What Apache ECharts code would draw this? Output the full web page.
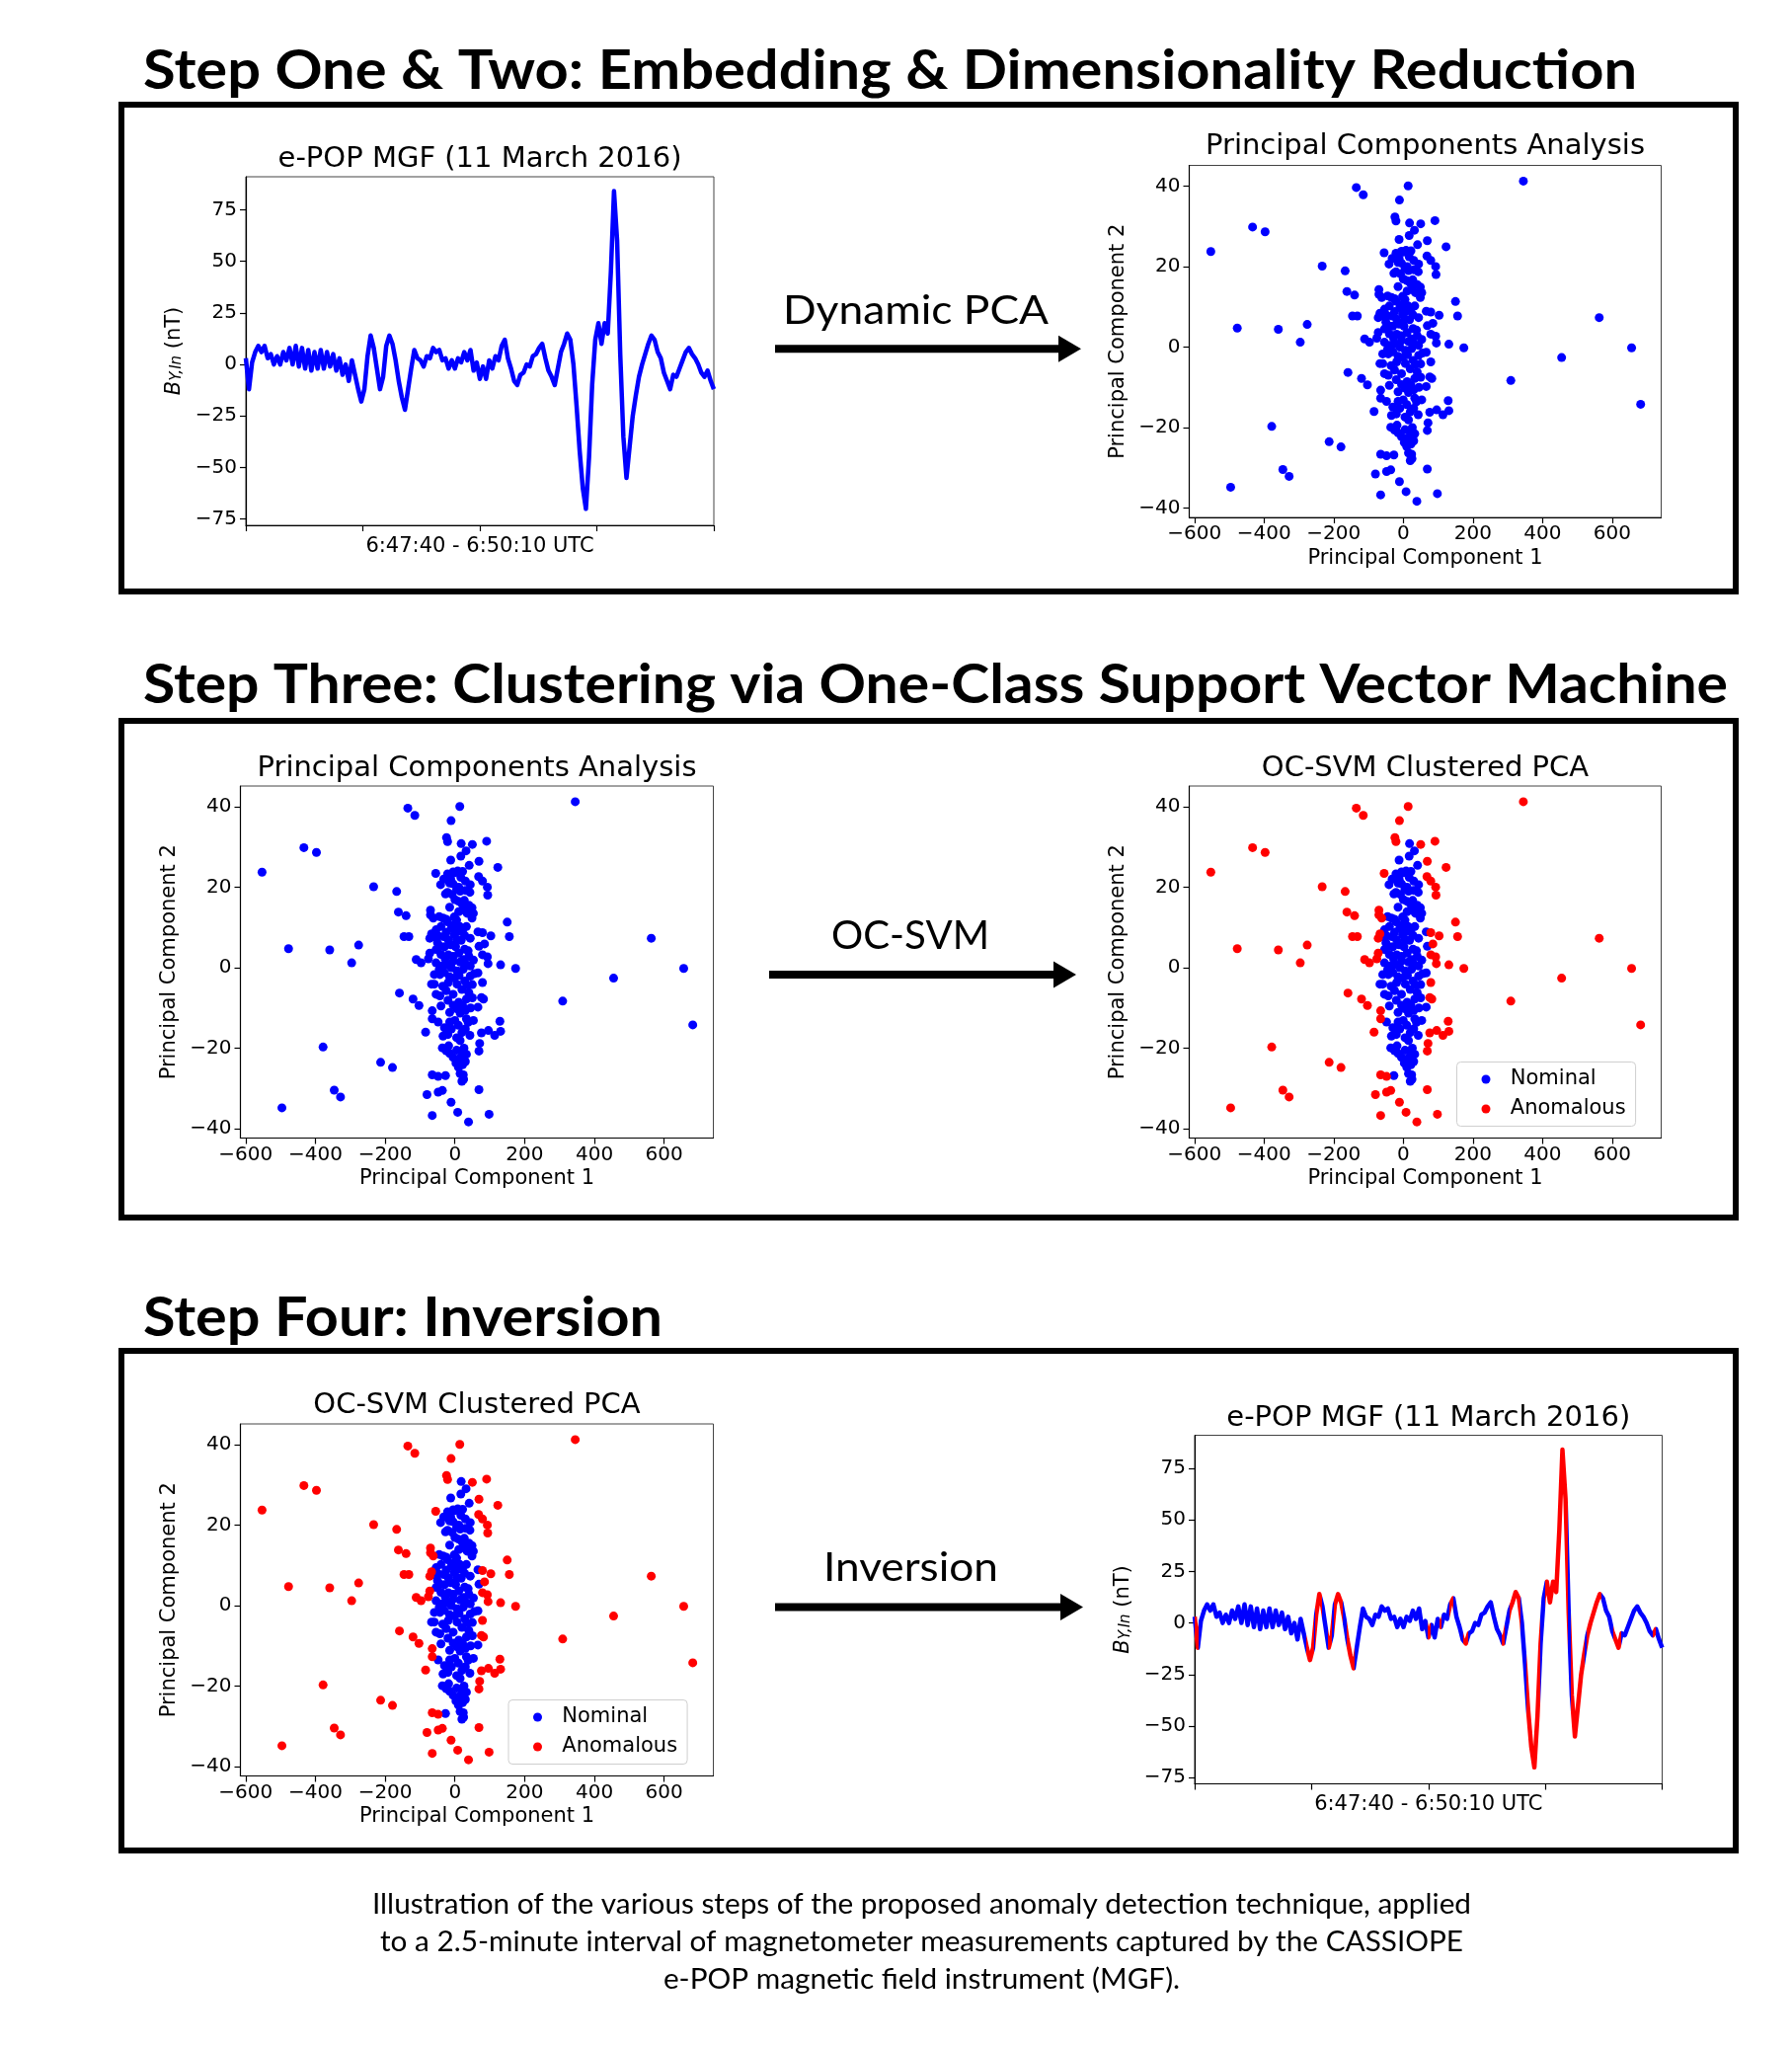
<!DOCTYPE html>
<html>
<head>
<meta charset="utf-8">
<script src="https://cdn.jsdelivr.net/npm/echarts@6/dist/echarts.min.js"></script>
<style>
  html, body { margin: 0; padding: 0; background: #fff; }
  #app { width: 1815px; height: 2073px; }
</style>
</head>
<body>
<div id="app"></div>
<script>
// tick values
var PC1_TICKS = [-600, -400, -200, 0, 200, 400, 600];
var PC2_TICKS = [-40, -20, 0, 20, 40];
var BY_TICKS = [-75, -50, -25, 0, 25, 50, 75];
var TIME_TICKS_S = [0, 37.5, 75, 112.5, 150];

// B_Y,In (nT), one sample per second over the 150 s interval (6:47:40 - 6:50:10 UTC)
var BY_NT = [
    3, -12, 1, 6, 9, 6, 9, 3, 5, 0,
    4, 0, 6, 2, 8, 0, 9, -1, 8, -2,
    7, -3, 6, -2, 7, -2, 6, -1, 5, -3,
    3, -5, 0, -8, 2, -5, -12, -18, -12, 4,
    14, 8, -2, -12, -6, 9, 14, 10, 2, -8,
    -16, -22, -12, -2, 7, 3, 2, -1, 4, 3,
    8, 6, 7, 2, 3, -2, 2, -2, 3, 1,
    6, 2, 7, -3, 1, -7, -1, -7, 2, -2,
    4, 2, 9, 12, 3, -2, -8, -10, -5, -4,
    0, -1, 4, 5, 8, 10, 3, -3, -6, -10,
    -2, 6, 10, 15, 12, 0, -20, -42, -60, -70,
    -45, -10, 12, 20, 10, 20, 15, 45, 84, 60,
    5, -35, -55, -40, -25, -15, -6, 0, 5, 10,
    14, 12, 6, 3, -4, -8, -12, -5, -6, -2,
    2, 6, 8, 5, 3, 0, -4, -6, -3, -8,
    -12
];
var STEP_S = 1;

// time spans (s) flagged anomalous after inversion
var ANOMALY_INTERVALS_S = [
    [0, 1.2], [35.8, 38.2], [38.7, 40.9], [42.7, 43.9], [44.7, 47.5], [48.7, 51.4],
    [74.8, 75.7], [78.5, 79.1], [81.7, 82.9], [86.3, 87.8], [98.5, 99.4],
    [100.9, 104.5], [106.3, 110.9], [112.4, 119.6], [120.6, 125.1], [125.7, 130.6],
    [134.2, 136.7], [147, 147.9]
];

// [PC1, PC2] points the OC-SVM kept as nominal
var NOMINAL = [
    [18, 30.8], [32, 29], [17, 27.7], [-12, 26.7], [41, 25.4], [44, 20.6], [43, 18.7], [-41, 20.6],
    [-21, 18.7], [20, -28.2], [24, -26.6], [-27, -26.8], [-34, -17], [-36, -19.9], [-18, -19.4],
    [-15, -21.3], [33, -21.5], [43, -16.8], [3, -23.7], [22, -24.1], [14, -22.5], [26, -20],
    [-15, -11.1], [-48, -13.5], [-15, -13.5], [0, -13.1], [33, -12.7], [53, -13.1], [66, -9.8],
    [66, -1.3], [44, -2.1], [-54, -6.6], [-43, -7], [-59, -4.1], [-67, -4.1], [-19, -3.7],
    [-5, -6.6], [11, -8.6], [22, -9.4], [33, -7.8], [40, -6.2], [20, -5.4], [6, -4.1],
    [-59, -1.7], [-43, -1.7], [-38, 0.4], [-54, 1.2], [-54, 4.5], [-43, 5.3], [-19, 3.2],
    [-5, 2.8], [11, 3.6], [24, 2], [40, 2.8], [53, 1.9], [44, 0.4], [24, -0.4], [6, -0.8],
    [-10, 0], [-24, 0.8], [69, 5.3], [-54, 9.4], [-32, 7.7], [-19, 6.9], [-2, 8.2], [14, 10.2],
    [22, 9.4], [33, 10.2], [44, 7.3], [66, 8.9], [-34, 12.3], [-21, 11.4], [-2, 12.6], [11, 13.9],
    [24, 14.3], [35, 13.5], [49, 14.9], [53, 13.5], [49, 12.3], [27, 16.7], [0, 16.9], [-27, 18.3],
    [-12, 22], [0, 23.6], [17, 22.4], [-5, 20.8], [11, 20], [-21, 23.3], [-32, 22],
    [-5, 23.8], [8, 24], [22, 23.9], [30, 21.5], [-15, 21], [5, 19.5], [15, 19], [30, 19.2], [-8, 18.2],
    [10, 16.5], [20, 15.9], [-15, 15], [40, 15.5], [45, 13.6], [-45, 12.7], [-25, 12], [5, 11.8],
    [-40, 10.2], [-10, 9.8], [0, 10.8], [10, 9], [28, 8], [-25, 8.8], [5, 7], [18, 6.8], [-48, 7.9], [-60, 7.7],
    [-50, 6.2], [-30, 5.2], [-12, 5.7], [2, 5.2], [28, 4.6], [38, 4.2], [-40, 3.3], [-28, 2.2], [15, 1.4],
    [30, 1.0], [-5, 1.6], [-45, -0.5], [-30, -1.2], [-15, -2.3], [-2, -2.6], [12, -1.9], [28, -3.3],
    [50, -4.2], [55, -1.5], [35, -4.3], [-35, -4.6], [-25, -5.7], [-40, -9.5], [-20, -8.1], [5, -10.2],
    [15, -11.3], [30, -10.6], [45, -10.0], [50, -7.5], [-5, -9.3], [38, -13.6], [-30, -14.9], [-10, -15.2],
    [10, -14.3], [20, -16.1], [30, -15.2], [5, -17.4], [15, -18.1], [-20, -16.6], [-25, -20.6], [5, -20.5],
    [18, -20.7], [-5, -22.3], [10, -24.7], [30, -23.3], [15, -26.3], [25, -27.7]
];

// [PC1, PC2] points the OC-SVM flagged as anomalous
var ANOMALOUS = [
    [-553, 23.7], [-433, 29.8], [-397, 28.6], [-477, 4.7], [-359, 4.4], [-276, 5.6], [-296, 1.2],
    [-378, -19.7], [-496, -34.8], [-346, -30.4], [-328, -32.1], [-233, 20.1], [-213, -23.5],
    [-179, -24.8], [-167, 18.9], [-162, 13.8], [-140, 12.9], [-146, 7.7], [-132, 7.7], [-159, -6.3],
    [-120, -7.8], [-103, -9.4], [-135, 39.6], [-115, 37.8], [14, 40], [-11, 36.5], [345, 41.2],
    [563, 7.3], [656, -0.2], [455, -2.6], [309, -8.3], [682, -14.2], [174, -0.2], [150, 11.3],
    [156, 7.7], [131, 0.7], [129, -13.3], [131, -15.8], [123, 24.9], [91, 31.4], [50, 30.6],
    [-24, 32.3], [-21, 31.3], [69, 26.4], [-55, 23.4], [103, 7.9], [79, 21.5], [93, 20], [94, 18],
    [68, 22.6], [98, -36.4], [39, -38.3], [8, -35.9], [-11, -33.4], [-65, -36.7], [-80, -31.5],
    [-48, -30.9], [-36, -30.5], [-65, -26.6], [-48, -27], [69, -30.3], [-84, -16], [69, -20.7],
    [71, -18.8], [76, -16.2], [96, -15.6], [114, -16.8], [-65, -10.7], [-65, -12.7], [79, -3.7],
    [76, -7.4], [82, -7.8], [-97, 1.2], [-111, 2], [-76, 2.2], [-72, 3.6], [85, 5.9], [79, 3.2],
    [93, 2.7], [95, 1.0], [-72, 7.3], [-67, 8.4], [79, 8.7], [-70, 14.3], [-70, 13.1], [-62, 12.3]
];

var BLUE = '#0000ff';
var RED = '#ff0000';
var MPL_FONT = 'DejaVu Sans';

var chart = echarts.init(document.getElementById('app'), null, { width: 1815, height: 2073 });

var frames = [
    { left: 249, top: 179, width: 474, height: 353 },      // A  time series
    { left: 1204.5, top: 167.5, width: 478, height: 356.5 }, // B  PCA
    { left: 243.5, top: 796, width: 479, height: 356.5 },   // C  PCA
    { left: 1204.5, top: 796, width: 478, height: 356.5 },  // D  OC-SVM
    { left: 243.5, top: 1442, width: 479, height: 356.5 },  // E  OC-SVM
    { left: 1210, top: 1453.5, width: 473.5, height: 353 }  // F  time series
];

function minus(v) {
    return String(v).replace('-', '\u2212');
}

function baseAxis(gridIndex, ticks, min, max) {
    return {
        type: 'value',
        gridIndex: gridIndex,
        min: min,
        max: max,
        splitLine: { show: false },
        axisLine: { show: true, onZero: false, lineStyle: { color: '#000', width: 1.2 } },
        axisTick: { show: true, length: 6, customValues: ticks, lineStyle: { color: '#000', width: 1.2 } },
        axisLabel: {
            customValues: ticks, margin: 7, fontSize: 20, fontFamily: MPL_FONT, color: '#000',
            formatter: minus
        },
        nameLocation: 'middle',
        nameTextStyle: { fontSize: 21, fontFamily: MPL_FONT, color: '#000' }
    };
}

var xAxes = [];
var yAxes = [];
[0, 5].forEach(function (g) {
    var x = baseAxis(g, TIME_TICKS_S, 0, 150);
    x.axisLabel.show = false;
    x.name = '6:47:40 - 6:50:10 UTC';
    x.nameGap = 11;
    xAxes[g] = x;
    var y = baseAxis(g, BY_TICKS, -78, 91);
    y.axisLabel.margin = 9;
    y.name = '{i|B}{s|Y,In} (nT)';
    y.nameGap = 62;
    y.nameTextStyle.rich = {
        i: { fontSize: 21, fontFamily: MPL_FONT, fontStyle: 'italic', color: '#000' },
        s: { fontSize: 15, fontFamily: MPL_FONT, fontStyle: 'italic', color: '#000', verticalAlign: 'bottom', lineHeight: 15 }
    };
    yAxes[g] = y;
});
[1, 2, 3, 4].forEach(function (g) {
    var x = baseAxis(g, PC1_TICKS, -615, 741);
    x.name = 'Principal Component 1';
    x.nameGap = 31;
    xAxes[g] = x;
    var y = baseAxis(g, PC2_TICKS, -42.3, 45.1);
    y.axisLabel.margin = 9;
    y.name = 'Principal Component 2';
    y.nameGap = 61;
    yAxes[g] = y;
});

var grids = frames.map(function (f) {
    return {
        left: f.left, top: f.top, width: f.width, height: f.height,
        show: true, borderColor: '#444', borderWidth: 1, containLabel: false
    };
});

var series_data = BY_NT.map(function (v, i) { return [i * STEP_S, v]; });
var allPoints = NOMINAL.concat(ANOMALOUS);

function scatter(name, g, data, color) {
    return {
        type: 'scatter', name: name, xAxisIndex: g, yAxisIndex: g, data: data,
        symbolSize: 9, itemStyle: { color: color, opacity: 1 },
        emphasis: { disabled: true }, silent: true
    };
}

var series = [
    {
        type: 'line', name: 'MGF', xAxisIndex: 0, yAxisIndex: 0, data: series_data,
        showSymbol: false, lineStyle: { color: BLUE, width: 4.5, join: 'round' }, silent: true
    },
    scatter('PCA', 1, allPoints, BLUE),
    scatter('PCA', 2, allPoints, BLUE),
    scatter('Nominal', 3, NOMINAL, BLUE),
    scatter('Anomalous', 3, ANOMALOUS, RED),
    scatter('Nominal', 4, NOMINAL, BLUE),
    scatter('Anomalous', 4, ANOMALOUS, RED),
    {
        type: 'line', name: 'MGF inverted', xAxisIndex: 5, yAxisIndex: 5, data: series_data,
        showSymbol: false, lineStyle: { width: 4.5, join: 'round' }, silent: true
    }
];

function legendAt(left, top) {
    return {
        data: ['Nominal', 'Anomalous'], orient: 'vertical', left: left, top: top,
        padding: [7, 10, 7, 25], itemGap: 9, itemWidth: 39.6, itemHeight: 9, icon: 'circle',
        selectedMode: false,
        textStyle: { fontSize: 21, fontFamily: MPL_FONT, color: '#000', lineHeight: 21 },
        backgroundColor: 'rgba(255,255,255,0.85)', borderColor: '#cfcfcf', borderWidth: 1, borderRadius: 4
    };
}

// text helpers for the slide-style labels (Calibri in the original)
var measureCtx = document.createElement('canvas').getContext('2d');
function fitScale(text, font, width) {
    measureCtx.font = font;
    return width / measureCtx.measureText(text).width;
}
function slideText(text, x, baseline, size, bold, width, align) {
    var font = (bold ? 'bold ' : '') + size + 'px Lato';
    return {
        type: 'text', x: x, y: baseline - 0.36 * size,
        scaleX: width ? fitScale(text, font, width) : 1,
        silent: true,
        style: { text: text, font: font, fill: '#000', textAlign: align || 'left', textVerticalAlign: 'middle' }
    };
}
function plotTitle(text, f, cy) {
    return {
        type: 'text', x: f.left + f.width / 2, y: cy, silent: true,
        style: { text: text, font: '29px "DejaVu Sans"', fill: '#000', textAlign: 'center', textVerticalAlign: 'middle' }
    };
}
function box(top, bottom) {
    return {
        type: 'rect', silent: true,
        shape: { x: 123, y: top, width: 1635, height: bottom - top },
        style: { fill: 'none', stroke: '#000', lineWidth: 6 }
    };
}
function arrow(x0, tip, cy) {
    return {
        type: 'group', silent: true,
        children: [
            { type: 'rect', shape: { x: x0, y: cy - 4, width: tip - x0 - 20, height: 8 }, style: { fill: '#000' } },
            { type: 'polygon', shape: { points: [[tip - 23, cy - 13.5], [tip, cy], [tip - 23, cy + 13.5]] }, style: { fill: '#000' } }
        ]
    };
}

var captionScale = fitScale(
    'Illustration of the various steps of the proposed anomaly detection technique, applied',
    '29px Lato', 1113);
function captionLine(text, baseline) {
    return {
        type: 'text', x: 933.5, y: baseline - 0.36 * 29, scaleX: captionScale, silent: true,
        style: { text: text, font: '29px Lato', fill: '#000', textAlign: 'center', textVerticalAlign: 'middle' }
    };
}

var graphics = [
    slideText('Step One & Two: Embedding & Dimensionality Reduction', 145, 91.7, 56, true, 1513),
    slideText('Step Three: Clustering via One-Class Support Vector Machine', 145, 714, 56, true, 1605),
    slideText('Step Four: Inversion', 145, 1355, 56, true, 526),
    box(106, 599), box(730, 1233), box(1368, 1874),
    arrow(785, 1095, 353.3), arrow(779, 1090, 987), arrow(785, 1097, 1627.5),
    slideText('Dynamic PCA', 927.5, 330, 41, false, 269, 'center'),
    slideText('OC-SVM', 922, 963, 41, false, 160, 'center'),
    slideText('Inversion', 922.5, 1603, 41, false, 177, 'center'),
    plotTitle('e-POP MGF (11 March 2016)', frames[0], 161.7),
    plotTitle('Principal Components Analysis', frames[1], 148.3),
    plotTitle('Principal Components Analysis', frames[2], 778),
    plotTitle('OC-SVM Clustered PCA', frames[3], 778),
    plotTitle('OC-SVM Clustered PCA', frames[4], 1423.3),
    plotTitle('e-POP MGF (11 March 2016)', frames[5], 1436.7),
    captionLine('Illustration of the various steps of the proposed anomaly detection technique, applied', 1939.3),
    captionLine('to a 2.5-minute interval of magnetometer measurements captured by the CASSIOPE', 1976.7),
    captionLine('e-POP magnetic field instrument (MGF).', 2015)
];

chart.setOption({
    animation: false,
    backgroundColor: '#fff',
    grid: grids,
    xAxis: xAxes,
    yAxis: yAxes,
    legend: [legendAt(1475.5, 1075.5), legendAt(515, 1721.5)],
    visualMap: [{
        type: 'piecewise', show: false, dimension: 0, seriesIndex: 7,
        pieces: ANOMALY_INTERVALS_S.map(function (p) { return { gte: p[0], lt: p[1], color: RED }; }),
        outOfRange: { color: BLUE }
    }],
    series: series,
    graphic: { elements: graphics }
});
</script>
</body>
</html>
